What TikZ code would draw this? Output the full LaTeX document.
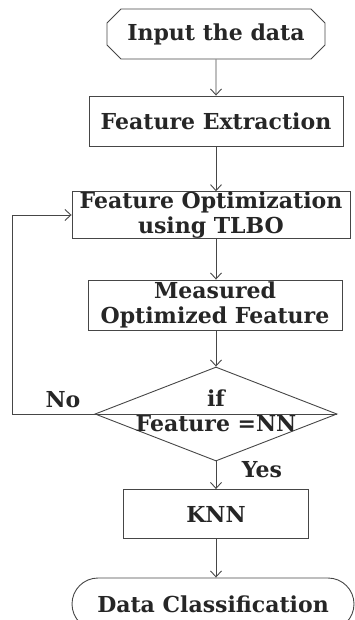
\documentclass[tikz,border=0pt]{standalone}
\usepackage{fontspec}
\setmainfont{DejaVu Serif}
\usetikzlibrary{shapes.geometric,shapes.misc,arrows.meta}
\tikzstyle{flowchart} = [x = 1pt, y = -1pt, every node/.style={font=\bfseries\fontsize{22}{25}\selectfont, align=center, text=black!85}]
\definecolor{lineColor}{RGB}{70,70,70}
\tikzstyle{boxStyle} = [draw=lineColor, line width=.9pt, inner sep=0pt]
\tikzstyle{startStyle} = [boxStyle, chamfered rectangle, chamfered rectangle xsep=16pt]
\tikzstyle{endStyle} = [boxStyle, rounded rectangle]
\tikzstyle{decisionStyle} = [boxStyle, diamond]
\tikzstyle{flowArrow} = [draw=lineColor, line width=.9pt, -{Straight Barb[length=6pt, width=11pt]}]

\begin{document}
\begin{tikzpicture}[flowchart]
  \useasboundingbox (0,0) rectangle (354,620);

  % boxes
  \node [startStyle, minimum width=218pt, minimum height=50pt] (input) at (216,34) {Input the data};
  \node [boxStyle, minimum width=254pt, minimum height=50pt] (extract) at (216,121) {Feature Extraction};
  \node [boxStyle, minimum width=278pt, minimum height=44pt] (optimize) at (211,215) {Feature Optimization\\using TLBO};
  \node [boxStyle, minimum width=254pt, minimum height=50pt] (measure) at (215,305) {Measured\\Optimized Feature};
  \node [decisionStyle, minimum width=242pt, minimum height=94pt] (check) at (216,414) {};
  \node (ifText) at (216,398) {if};
  \node (condText) at (216,424) {Feature =NN};
  \node [boxStyle, minimum width=185pt, minimum height=49pt] (knn) at (216,514) {KNN};
  \node [endStyle, minimum width=282pt, minimum height=52pt] (classify) at (213,604) {Data Classification};

  % labels
  \node (noLabel) at (63,400) {No};
  \node (yesLabel) at (262,470) {Yes};

  % arrows
  \draw [flowArrow] (input) -- (input |- extract.north);
  \draw [flowArrow] (extract) -- (extract |- optimize.north);
  \draw [flowArrow] (extract |- optimize.south) -- (extract |- measure.north);
  \draw [flowArrow] (extract |- measure.south) -- (check.north);
  \draw [flowArrow] (check.south) -- (check.south |- knn.north);
  \draw [flowArrow] (check.south |- knn.south) -- (check.south |- classify.north);
  \draw [boxStyle] (check.west) -- (check.east);
  \draw [flowArrow] (check.west) -- ++(-82,0) |- (optimize.west);
\end{tikzpicture}
\end{document}
